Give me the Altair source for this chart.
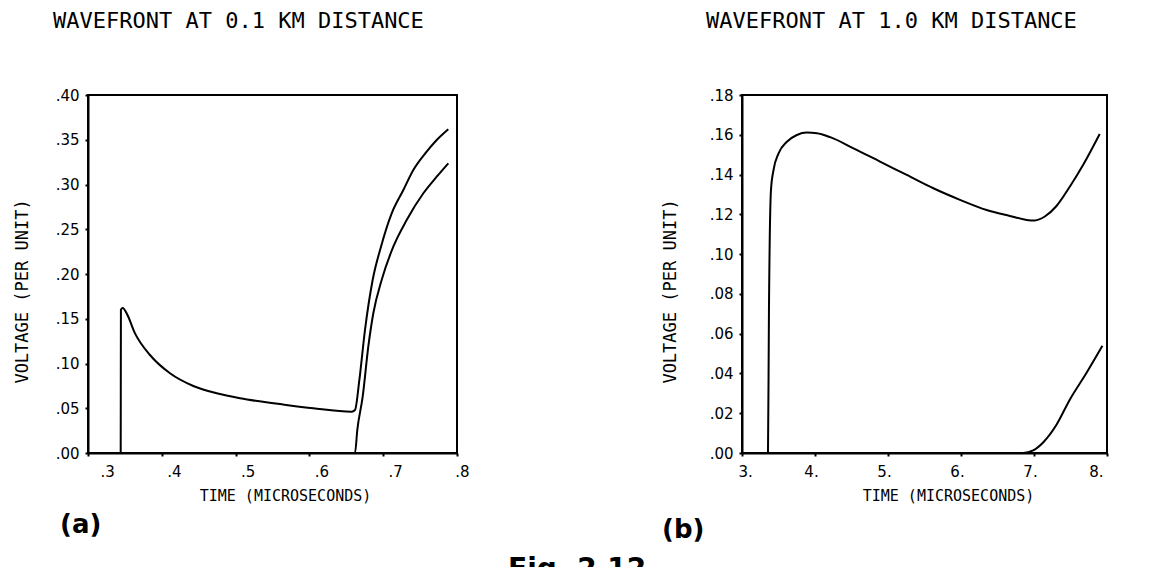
import altair as alt
import pandas as pd

# ---------------- data ----------------
# Panel (a): wavefront at 0.1 km
a_upper_t = [0.300, 0.3443, 0.3446, 0.347, 0.3524, 0.3637, 0.384, 0.4111, 0.4427, 0.4743,
             0.506, 0.560, 0.6053, 0.6573, 0.6618, 0.6677, 0.6753, 0.6857, 0.6970, 0.7115,
             0.7273, 0.7408, 0.7589, 0.7725, 0.7882]
a_upper_v = [0.0, 0.0, 0.160, 0.162, 0.156, 0.1337, 0.1095, 0.0891, 0.0749, 0.0667,
             0.0611, 0.0547, 0.0499, 0.0461, 0.048, 0.0816, 0.1374, 0.1933, 0.2305, 0.2678,
             0.2939, 0.3162, 0.3367, 0.3497, 0.3617]
a_lower_t = [0.300, 0.6618, 0.6649, 0.6722, 0.6798, 0.6866, 0.6979, 0.7137, 0.7318, 0.7544,
             0.7725, 0.7882]
a_lower_v = [0.0, 0.0, 0.0257, 0.0629, 0.1188, 0.1561, 0.1933, 0.2305, 0.2603, 0.2902,
             0.3087, 0.3237]

# Panel (b): wavefront at 1.0 km
b_upper_t = [3.0, 3.356, 3.369, 3.397, 3.432, 3.501, 3.615, 3.752, 3.889, 4.026, 4.208,
             4.527, 4.891, 5.257, 5.621, 5.986, 6.351, 6.669, 6.898, 7.011, 7.148, 7.308,
             7.490, 7.672, 7.900]
b_upper_v = [0.0, 0.0, 0.0703, 0.1323, 0.1423, 0.1507, 0.1565, 0.1599, 0.1611, 0.1608, 0.1588,
             0.1532, 0.1465, 0.1398, 0.1331, 0.1273, 0.1222, 0.1192, 0.1172, 0.1169, 0.1189,
             0.1242, 0.1339, 0.1448, 0.1604]
b_lower_t = [3.0, 6.852, 6.989, 7.125, 7.308, 7.490, 7.718, 7.937]
b_lower_v = [0.0, 0.0, 0.0013, 0.0053, 0.0142, 0.0268, 0.0402, 0.0539]

a_x_ticks = [0.3, 0.4, 0.5, 0.6, 0.7, 0.8]
a_y_ticks = [0.00, 0.05, 0.10, 0.15, 0.20, 0.25, 0.30, 0.35, 0.40]
b_x_ticks = [3, 4, 5, 6, 7, 8]
b_y_ticks = [0.00, 0.02, 0.04, 0.06, 0.08, 0.10, 0.12, 0.14, 0.16, 0.18]

title_a = "WAVEFRONT AT 0.1 KM DISTANCE"
title_b = "WAVEFRONT AT 1.0 KM DISTANCE"
x_title = "TIME  (MICROSECONDS)"
y_title = "VOLTAGE (PER UNIT)"
tag_a = "(a)"
tag_b = "(b)"
caption = "Fig. 2.12"

# ---------------- helpers ----------------
W, H = 1152, 567
MONO = "DejaVu Sans Mono"
SANS = "DejaVu Sans"


def curves(ts_list, vs_list):
    rows = []
    for ci, (ts, vs) in enumerate(zip(ts_list, vs_list)):
        for i, (t, v) in enumerate(zip(ts, vs)):
            rows.append({"t": t, "v": v, "curve": ci, "i": i})
    return pd.DataFrame(rows)


def axis_common():
    return dict(grid=False, domainColor="black", domainWidth=2, tickColor="black",
                tickSize=3, tickWidth=2, labelFont=SANS, labelFontSize=15,
                labelColor="black", labelOverlap=False, titleColor="black",
                titleFontWeight="normal")


def panel(df, xdom, ydom, xrange, yrange, xticks, yticks, xlab, ylab,
          x_offset, y_offset, x_title_x, y_title_x, x_label_dx):
    xaxis = alt.Axis(orient="bottom", offset=x_offset, values=xticks, labelExpr=xlab,
                     labelPadding=8, labelOffset=x_label_dx, title=x_title,
                     titleFont=MONO, titleFontSize=15, titleX=x_title_x, titleY=47,
                     titleBaseline="alphabetic", titleAlign="center", **axis_common())
    yaxis = alt.Axis(orient="left", offset=y_offset, values=yticks, labelExpr=ylab,
                     labelPadding=6, title=y_title, titleFont=MONO, titleFontSize=17,
                     titleX=y_title_x, titleY=291, titleAngle=270,
                     titleBaseline="alphabetic", titleAlign="center", **axis_common())
    xs = alt.Scale(domain=xdom, range=xrange, nice=False, zero=False)
    ys = alt.Scale(domain=ydom, range=yrange, nice=False, zero=False)
    box_df = pd.DataFrame({"t": [xdom[0]], "t2": [xdom[1]], "v": [ydom[0]], "v2": [ydom[1]]})
    box = alt.Chart(box_df).mark_rect(fillOpacity=0, stroke="black", strokeWidth=2).encode(
        x=alt.X("t:Q", scale=xs, axis=xaxis), x2="t2:Q",
        y=alt.Y("v:Q", scale=ys, axis=yaxis), y2="v2:Q")
    lines = alt.Chart(df).mark_line(color="black", strokeWidth=2,
                                    interpolate="monotone").encode(
        x=alt.X("t:Q", scale=xs, axis=xaxis),
        y=alt.Y("v:Q", scale=ys, axis=yaxis),
        detail="curve:N", order="i:Q")
    return alt.layer(box, lines)


def text(label, x, y, font, size, weight="normal", align="left"):
    return alt.Chart(pd.DataFrame({"label": [label]})).mark_text(
        align=align, baseline="alphabetic", font=font, fontSize=size,
        fontWeight=weight, color="black").encode(
        x=alt.value(x), y=alt.value(y), text="label:N")


lab_dot1 = "replace(format(datum.value, '.1f'), '0.', '.')"
lab_dot2 = "replace(format(datum.value, '.2f'), '0.', '.')"
lab_int = "format(datum.value, 'd') + '.'"

panel_a = panel(curves([a_upper_t, a_lower_t], [a_upper_v, a_lower_v]),
                [0.3, 0.8], [0.0, 0.4], [88, 457], [453, 95], a_x_ticks, a_y_ticks,
                lab_dot1, lab_dot2, -(H - 453), -88, 285, -61, 12)
panel_b = panel(curves([b_upper_t, b_lower_t], [b_upper_v, b_lower_v]),
                [3, 8], [0.0, 0.18], [742, 1107], [453, 95], b_x_ticks, b_y_ticks,
                lab_int, lab_dot2, -(H - 453), -742, 948, -67, -4)

chart = alt.layer(
    panel_a, panel_b,
    text(title_a, 53, 28, MONO, 22),
    text(title_b, 706, 28, MONO, 22),
    text(tag_a, 60, 533, SANS, 26, "bold"),
    text(tag_b, 662, 538, SANS, 26, "bold"),
    text(caption, 508, 578, SANS, 28, "bold"),
).resolve_scale(x="independent", y="independent").properties(
    width=W, height=H, autosize=alt.AutoSizeParams(type="none"), padding=0,
    background="white"
).configure_view(strokeWidth=0)

chart.save("out.html", embed_options={"renderer": "svg", "actions": False})
